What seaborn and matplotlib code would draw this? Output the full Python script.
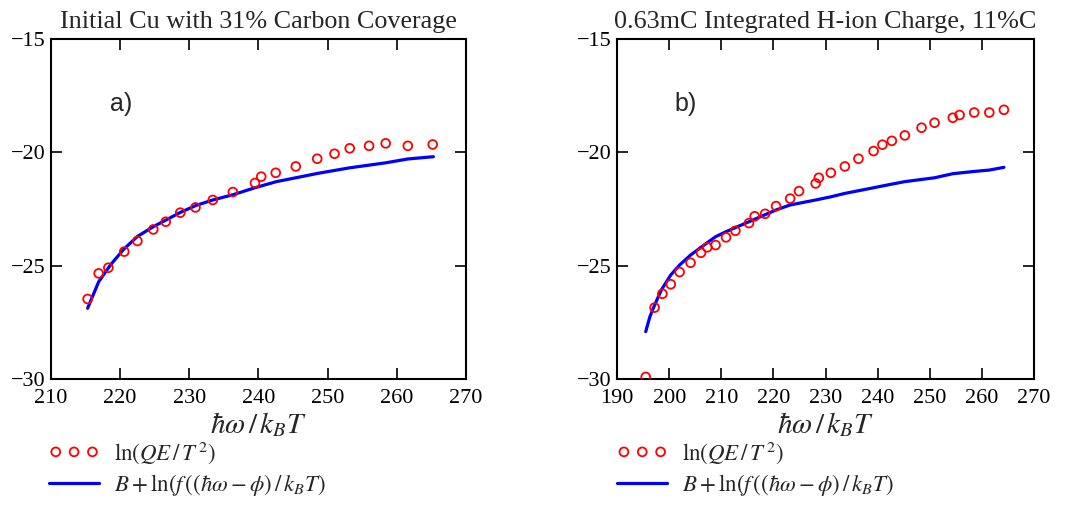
import matplotlib
matplotlib.use("Agg")
import matplotlib.pyplot as plt
import seaborn as sns
import numpy as np

# ---- Data: panel a) ----
a_pts_x = [215.3, 216.9, 218.3, 220.6, 222.5, 224.8, 226.6, 228.7, 230.9, 233.4, 236.3,
           239.5, 240.4, 242.5, 245.4, 248.5, 251.0, 253.2, 256.0, 258.4, 261.6, 265.2]
a_pts_y = [-26.47, -25.34, -25.09, -24.38, -23.91, -23.40, -23.06, -22.66, -22.43, -22.10, -21.75,
           -21.35, -21.07, -20.90, -20.62, -20.28, -20.06, -19.82, -19.71, -19.60, -19.71, -19.65]
a_fit_x = [215.3, 216.9, 218.6, 220.5, 222.5, 224.8, 226.6, 228.7, 230.9, 233.4, 236.3,
           239.5, 242.6, 245.4, 248.5, 253.2, 258.4, 261.6, 265.3]
a_fit_y = [-26.88, -25.71, -24.97, -24.28, -23.71, -23.28, -22.99, -22.65, -22.35, -22.10, -21.87,
           -21.56, -21.29, -21.12, -20.93, -20.68, -20.46, -20.29, -20.19]

# ---- Data: panel b) ----
b_pts_x = [195.5, 197.2, 198.7, 200.3, 202.0, 204.1, 206.1, 207.3, 208.9, 210.9, 212.7, 215.3,
           216.4, 218.4, 220.5, 223.2, 224.9, 228.1, 228.7, 231.0, 233.7, 236.3, 239.2, 240.9,
           242.7, 245.2, 248.4, 250.9, 254.4, 255.7, 258.5, 261.4, 264.2]
b_pts_y = [-29.91, -26.85, -26.24, -25.82, -25.28, -24.87, -24.43, -24.19, -24.09, -23.75, -23.46, -23.12,
           -22.82, -22.71, -22.37, -22.04, -21.71, -21.37, -21.12, -20.90, -20.62, -20.28, -19.94, -19.66,
           -19.49, -19.25, -18.91, -18.69, -18.47, -18.35, -18.24, -18.24, -18.12]
b_fit_x = [195.5, 196.3, 197.2, 198.5, 200.3, 202.0, 204.1, 206.1, 208.9, 210.9, 212.7, 215.3,
           218.3, 220.5, 223.2, 228.1, 231.0, 233.7, 239.2, 242.7, 245.2, 250.9, 254.4, 258.5,
           261.4, 264.2]
b_fit_y = [-27.91, -27.25, -26.74, -26.07, -25.41, -24.97, -24.53, -24.19, -23.72, -23.50, -23.32, -23.06,
           -22.76, -22.54, -22.32, -22.10, -21.96, -21.81, -21.56, -21.40, -21.29, -21.12, -20.94, -20.84,
           -20.78, -20.66]

titles = ["Initial Cu with 31% Carbon Coverage", "0.63mC Integrated H-ion Charge, 11%C"]
panel_labels = ["a)", "b)"]
xlims = [(210, 270), (190, 270)]
xticks = [list(range(210, 271, 10)), list(range(190, 271, 10))]
yticks = [-30, -25, -20, -15]
label_pos = [(218.6, -17.85), (201.1, -17.85)]
pts_label = r'$\mathrm{ln}(QE\,/\,T^{\,2})$'
fit_label = r'$B+\mathrm{ln}(f\,((\hbar\omega-\phi)\,/\,k_BT)$'
xlabel = r'$\hbar\omega\,/\,k_BT$'

sns.set_theme(style="ticks")
plt.rcParams['font.family'] = ['Liberation Serif', 'DejaVu Serif']
plt.rcParams['mathtext.fontset'] = 'stix'

fig = plt.figure(figsize=(10.75, 5.08), dpi=100)
ax_a = fig.add_axes([0.0474, 0.254, 0.386, 0.669])
ax_b = fig.add_axes([0.574, 0.254, 0.388, 0.669])

data = [(a_pts_x, a_pts_y, a_fit_x, a_fit_y), (b_pts_x, b_pts_y, b_fit_x, b_fit_y)]
leg_x = [-0.005, 0.0]

for i, ax in enumerate([ax_a, ax_b]):
    px, py, fx, fy = data[i]
    sns.scatterplot(x=px, y=py, ax=ax, marker='o', s=40, fc='none', ec='red',
                    linewidth=1.3, label=pts_label, zorder=3)
    sns.lineplot(x=fx, y=fy, ax=ax, color='blue', linewidth=2.3, label=fit_label,
                 sort=False, zorder=2)
    ax.set_xlim(*xlims[i])
    ax.set_ylim(-30, -15)
    ax.set_xticks(xticks[i])
    ax.set_yticks(yticks)
    ax.tick_params(direction='in', length=8, width=1.2, top=True, right=True,
                   labelsize=16, colors='black')
    ax.tick_params(axis='x', pad=7)
    ax.tick_params(axis='y', pad=4)
    for sp in ax.spines.values():
        sp.set_visible(True)
        sp.set_linewidth(1.5)
        sp.set_color('black')
    ax.set_title(titles[i], fontsize=18.8, pad=8)
    ax.set_xlabel(xlabel, fontsize=21, labelpad=2)
    ax.set_ylabel('')
    ax.text(label_pos[i][0], label_pos[i][1], panel_labels[i], fontsize=18,
            family='Liberation Sans', ha='left', va='center')
    ax.legend(loc='upper left', bbox_to_anchor=(leg_x[i], -0.178), frameon=False,
              fontsize=16.5, handlelength=2.2, scatterpoints=3, scatteryoffsets=[0.5],
              handletextpad=0.65, labelspacing=0.25, borderaxespad=0, borderpad=0)

fig.savefig("out.png", dpi=100)
